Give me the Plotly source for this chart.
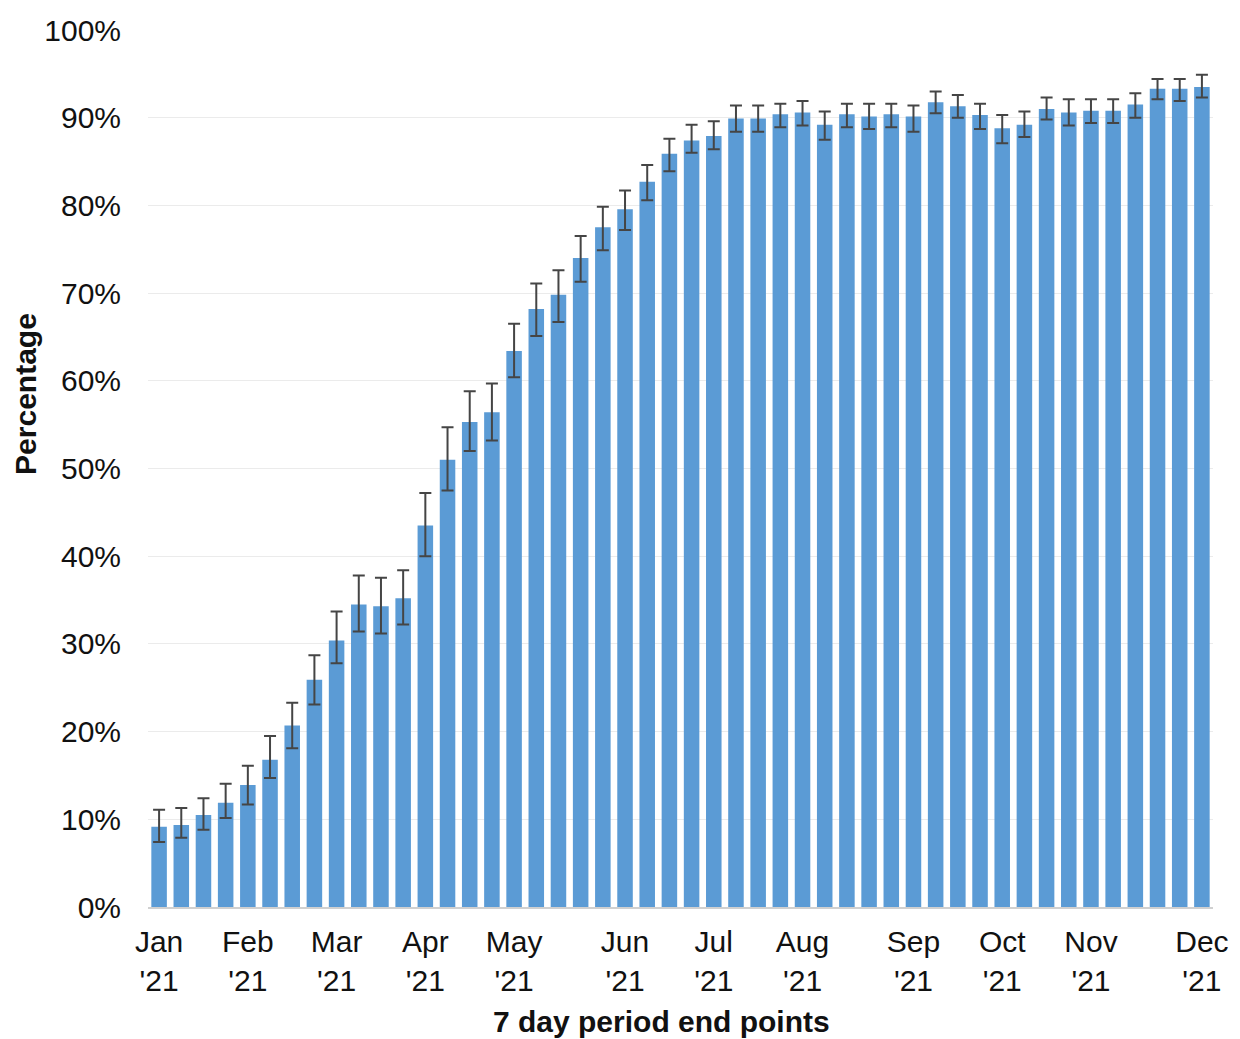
import plotly.graph_objects as go

# 7-day period index (48 periods) and month tick labels
period_idx = list(range(48))
tick_idx = [0, 4, 8, 12, 16, 21, 25, 29, 34, 38, 42, 47]
tick_labels = ["Jan<br>'21", "Feb<br>'21", "Mar<br>'21", "Apr<br>'21", "May<br>'21",
               "Jun<br>'21", "Jul<br>'21", "Aug<br>'21", "Sep<br>'21", "Oct<br>'21",
               "Nov<br>'21", "Dec<br>'21"]

# Estimated percentage and confidence interval bounds
pct = [9.15, 9.35, 10.5, 11.9, 13.9, 16.8, 20.7, 25.9, 30.4, 34.5, 34.3, 35.2,
       43.5, 51.0, 55.3, 56.4, 63.4, 68.2, 69.8, 74.0, 77.5, 79.55, 82.7, 85.9,
       87.4, 87.9, 89.9, 89.9, 90.4, 90.6, 89.2, 90.4, 90.15, 90.4, 90.15, 91.75,
       91.3, 90.3, 88.8, 89.2, 91.0, 90.6, 90.8, 90.8, 91.5, 93.3, 93.3, 93.5]
ci_upper = [11.1, 11.3, 12.4, 14.05, 16.1, 19.5, 23.3, 28.7, 33.7, 37.8, 37.55, 38.4,
            47.2, 54.7, 58.8, 59.7, 66.5, 71.1, 72.6, 76.5, 79.85, 81.7, 84.6, 87.6,
            89.2, 89.6, 91.4, 91.4, 91.6, 91.9, 90.7, 91.6, 91.6, 91.6, 91.4, 93.0,
            92.6, 91.6, 90.3, 90.7, 92.3, 92.1, 92.1, 92.1, 92.8, 94.4, 94.4, 94.9]
ci_lower = [7.4, 7.9, 8.8, 10.15, 11.7, 14.7, 18.1, 23.1, 27.8, 31.4, 31.2, 32.2,
            40.0, 47.5, 52.0, 53.2, 60.4, 65.1, 66.7, 71.3, 74.9, 77.2, 80.6, 83.9,
            86.0, 86.4, 88.4, 88.4, 88.9, 89.1, 87.5, 88.9, 88.7, 88.9, 88.4, 90.5,
            90.0, 88.7, 87.1, 87.8, 89.8, 89.1, 89.4, 89.4, 90.0, 92.1, 91.9, 92.3]

err_plus = [u - v for u, v in zip(ci_upper, pct)]
err_minus = [v - l for v, l in zip(pct, ci_lower)]

FONT = "Liberation Sans, Arial, sans-serif"
FS = 30

fig = go.Figure(go.Bar(
    x=period_idx,
    y=pct,
    marker=dict(color="#5B9BD5", line=dict(width=0)),
    error_y=dict(type="data", symmetric=False, array=err_plus, arrayminus=err_minus,
                 color="#454545", thickness=2, width=6),
))

fig.update_layout(
    width=1232, height=1031,
    margin=dict(l=140, r=27, t=22, b=132),
    plot_bgcolor="white", paper_bgcolor="white",
    bargap=0.3,
    showlegend=False,
    font=dict(family=FONT, size=FS, color="#111111"),
    xaxis=dict(
        range=[-0.5, 47.5], automargin=False,
        tickmode="array", tickvals=tick_idx, ticktext=tick_labels,
        showgrid=False, showline=True, linecolor="#d0d0d0", linewidth=1.5,
        ticks="", ticklabelstandoff=7,
        tickfont=dict(family=FONT, size=FS, color="#111111"),
    ),
    yaxis=dict(
        range=[0, 100], dtick=10, ticksuffix="%", automargin=False,
        showgrid=True, gridcolor="#ebebeb", gridwidth=1,
        zeroline=False, showline=False,
        ticks="", ticklabelstandoff=26,
        tickfont=dict(family=FONT, size=FS, color="#111111"),
    ),
    annotations=[
        dict(text="<b>7 day period end points</b>", xref="paper", yref="paper",
             x=0.4817, y=-0.131, xanchor="center", yanchor="middle", showarrow=False,
             font=dict(family=FONT, size=FS, color="#111111")),
        dict(text="<b>Percentage</b>", xref="paper", yref="paper",
             x=-0.1146, y=0.585, xanchor="center", yanchor="middle", showarrow=False,
             textangle=-90, font=dict(family=FONT, size=FS, color="#111111")),
    ],
)

fig.write_html("out.html")
